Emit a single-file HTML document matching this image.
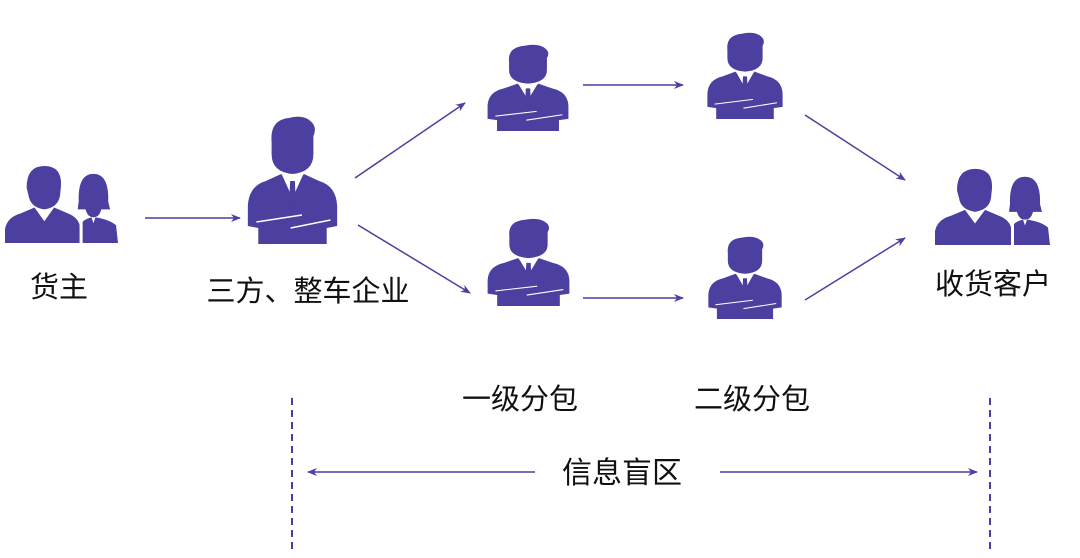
<!DOCTYPE html>
<html><head><meta charset="utf-8"><style>
html,body{margin:0;padding:0;background:#fff;}
svg{display:block;}
text{font-family:"Liberation Sans","Noto Sans CJK SC",sans-serif;fill:#111;font-size:29px;text-anchor:middle;}
</style></head><body>
<svg width="1080" height="558" viewBox="0 0 1080 558">
<defs>
<symbol id="man" viewBox="0 0 100 130" preserveAspectRatio="none">
<path d="M28,28 Q26,6 46,4 Q62,0 70,8 Q76,14 72,22 L72,40 Q72,58 50,60 Q28,58 28,40 Z" fill="#4b3f9f"/>
<path d="M3,92 Q4,72 22,67 L38,60 L50,74 L62,60 L78,67 Q96,72 97,92 L97,112 L86,114 L86,130 L14,130 L14,114 L3,112 Z" fill="#4b3f9f"/>
<path d="M39,61 L50,84 L61,61 L56,59 L50,66 L44,59 Z" fill="#fff"/>
<path d="M47.5,67 L52.5,67 L53.5,90 L50,95 L46.5,90 Z" fill="#4b3f9f"/>
<path d="M12,108 L60,101 M48,114 L90,106" stroke="#fff" stroke-width="1.6"/>
</symbol>
<symbol id="pair" viewBox="0 0 115 82" preserveAspectRatio="none">
<path d="M22,26 Q22,4 40,4 Q58,4 57,24 L56,34 Q54,46 40,48 Q26,46 24,34 Z" fill="#4b3f9f"/>
<path d="M0,68 Q2,56 16,52 L30,46 L40,60 L50,46 L64,52 Q74,56 76,64 L76,82 L0,82 Z" fill="#4b3f9f"/>
<path d="M75,40 Q74,12 90,12 Q106,12 105,40 L107,48 L98,48 Q96,56 90,56 Q84,56 82,48 L74,48 Z" fill="#4b3f9f"/>
<path d="M78,82 L78,62 Q80,58 88,56 L90,62 L92,56 Q106,58 113,64 L115,82 Z" fill="#4b3f9f"/>
<path d="M76,82 L76,62 L79,60 L79,82 Z" fill="#fff"/>
</symbol>
<marker id="ah" markerWidth="10" markerHeight="8" refX="9" refY="4" orient="auto" markerUnits="userSpaceOnUse">
<path d="M0,0 L10,4 L0,8 L3,4 Z" fill="#4b3f9f"/></marker>
</defs>
<use href="#pair" x="5" y="162" width="113" height="81"/>
<use href="#pair" x="935" y="165" width="115" height="80"/>
<use href="#man" x="245" y="114" width="95" height="130"/>
<use href="#man" x="485" y="43" width="86" height="88"/>
<use href="#man" x="485" y="217" width="87" height="89"/>
<use href="#man" x="705" y="31" width="80" height="88"/>
<use href="#man" x="706" y="235" width="78" height="84"/>
<g stroke="#4b3f9f" stroke-width="1.5" fill="none" marker-end="url(#ah)">
<line x1="145" y1="218" x2="240" y2="218"/>
<line x1="355" y1="178" x2="465" y2="103"/>
<line x1="358" y1="225" x2="470" y2="293"/>
<line x1="583" y1="85" x2="683" y2="85"/>
<line x1="583" y1="298" x2="683" y2="298"/>
<line x1="805" y1="115" x2="905" y2="180"/>
<line x1="805" y1="300" x2="905" y2="238"/>
<line x1="535" y1="472" x2="308" y2="472"/>
<line x1="720" y1="472" x2="977" y2="472"/>
</g>
<g stroke="#4b3f9f" stroke-width="2" stroke-dasharray="7,5">
<line x1="292" y1="398" x2="292" y2="550"/>
<line x1="990" y1="398" x2="990" y2="550"/>
</g>
<text x="59" y="297">货主</text>
<text x="308" y="301">三方、整车企业</text>
<text x="993" y="294">收货客户</text>
<text x="520" y="409">一级分包</text>
<text x="752" y="409">二级分包</text>
<text x="622" y="483" style="font-size:30px">信息盲区</text>
</svg>
</body></html>
